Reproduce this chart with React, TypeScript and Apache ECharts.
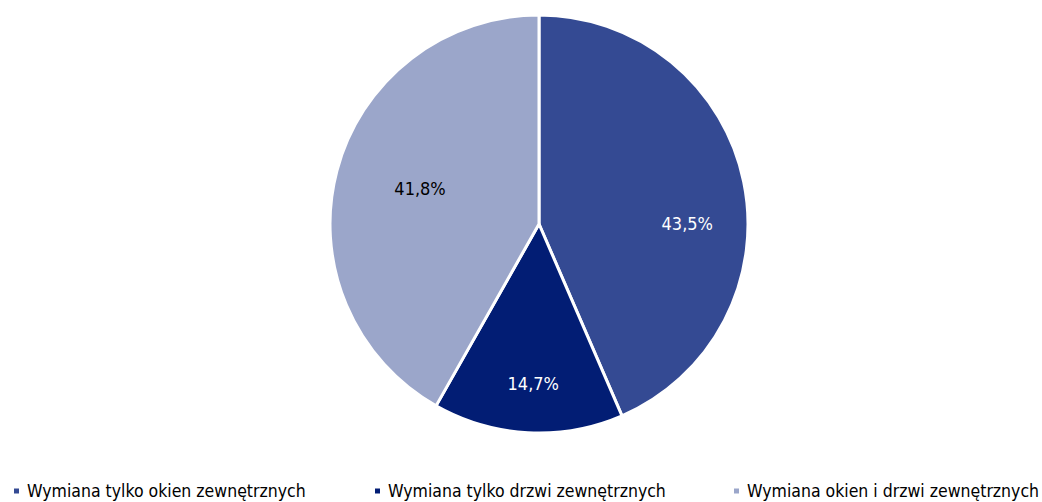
import React, { useEffect, useRef } from "react";
import * as echarts from "echarts";

const categories = [
  "Wymiana tylko okien zewnętrznych",
  "Wymiana tylko drzwi zewnętrznych",
  "Wymiana okien i drzwi zewnętrznych",
];
const values = [43.5, 14.7, 41.8];
const colors = ["#344A93", "#021D74", "#9BA6CA"];
const labelColors = ["#ffffff", "#ffffff", "#000000"];
const labelOffsets = [[43, 21], [0, 52], [-15, -8]];
const legendLefts = [7, 368, 727];

const FONT = "'DejaVu Sans Condensed', 'Liberation Sans Narrow', sans-serif";

export default function App() {
  const ref = useRef<HTMLDivElement>(null);
  useEffect(() => {
    const chart = echarts.init(ref.current!, null, { renderer: "svg" });
    chart.setOption({
      animation: false,
      color: colors,
      legend: categories.map((c, i) => ({
        data: [c],
        left: legendLefts[i],
        top: 477,
        icon: "rect",
        itemWidth: 7,
        itemHeight: 7,
        itemGap: 6,
        textStyle: { fontFamily: FONT, fontSize: 17.5, color: "#000", padding: [0, 0, 0, 2] },
        selectedMode: false,
      })),
      series: [
        {
          type: "pie",
          center: [539, 224],
          radius: [0, 209],
          startAngle: 90,
          clockwise: true,
          itemStyle: { borderColor: "#fff", borderWidth: 3 },
          label: {
            position: "inside",
            fontFamily: FONT,
            fontSize: 18,
          },
          labelLine: { show: false },
          emphasis: { disabled: true },
          data: categories.map((c, i) => ({
            name: c,
            value: values[i],
            label: {
              color: labelColors[i],
              offset: labelOffsets[i],
              formatter: () => values[i].toFixed(1).replace(".", ",") + "%",
            },
          })),
        },
      ],
    });
    return () => chart.dispose();
  }, []);
  return (
    <div
      ref={ref}
      style={{ position: "absolute", left: 0, top: 0, width: 1042, height: 502, background: "#fff" }}
    />
  );
}
